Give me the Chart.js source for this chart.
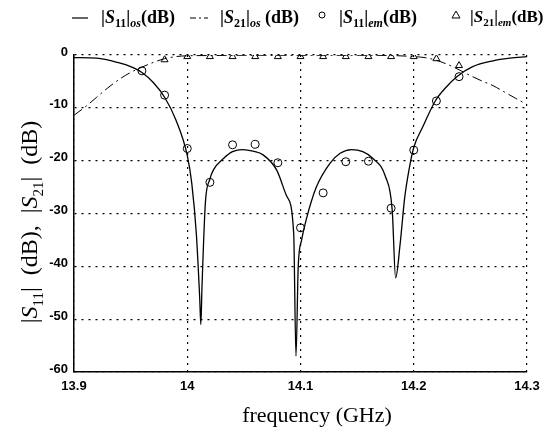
<!DOCTYPE html>
<html>
<head>
<meta charset="utf-8">
<script src="https://cdn.jsdelivr.net/npm/chart.js@4/dist/chart.umd.min.js"></script>
<style>
  html, body { margin: 0; padding: 0; background: #fff; }
</style>
</head>
<body>
<canvas id="chart" width="552" height="429"></canvas>
<script>
// simulated |S11| (solid)
var simFreq = [13.90, 13.92, 13.94, 13.95, 13.96, 13.97, 13.98, 13.99, 14.00, 14.004, 14.008, 14.011, 14.012, 14.013, 14.016, 14.02, 14.023, 14.032, 14.04, 14.049, 14.058, 14.067, 14.079, 14.088, 14.094, 14.096, 14.098, 14.101, 14.105, 14.114, 14.126, 14.135, 14.145, 14.155, 14.164, 14.175, 14.181, 14.184, 14.188, 14.192, 14.196, 14.20, 14.208, 14.219, 14.229, 14.238, 14.252, 14.27, 14.285, 14.30];
var simS11 = [-0.5, -0.6, -1.5, -2.2, -3.3, -5.2, -8.0, -12.3, -19.0, -24.3, -33.8, -46, -51, -44, -28, -23.5, -21.8, -19.6, -18.3, -17.9, -18.2, -18.9, -21.8, -26.8, -33.8, -57, -40, -35, -31.2, -25, -20.5, -18.6, -17.9, -18.3, -19.6, -23, -29.4, -42.2, -35.7, -27, -21.5, -17.5, -13.6, -8.7, -6.0, -4.1, -2.2, -1.1, -0.6, -0.3];

// simulated |S21| (dash-dot)
var simS21Freq = [13.90, 13.91, 13.92, 13.93, 13.94, 13.95, 13.96, 13.97, 13.98, 13.99, 14.00, 14.02, 14.05, 14.10, 14.15, 14.18, 14.20, 14.21, 14.22, 14.23, 14.24, 14.25, 14.26, 14.27, 14.28, 14.29, 14.30];
var simS21 = [-11.4, -9.8, -8.0, -6.2, -4.6, -3.3, -2.3, -1.4, -0.7, -0.3, -0.15, -0.1, -0.05, -0.05, -0.05, -0.1, -0.3, -0.5, -1.0, -1.8, -2.8, -3.9, -4.9, -5.8, -7.0, -8.2, -9.4];

// measured points
var measFreq = [13.96, 13.98, 14.00, 14.02, 14.04, 14.06, 14.08, 14.10, 14.12, 14.14, 14.16, 14.18, 14.20, 14.22, 14.24];
var measS11 = [-3.0, -7.6, -17.7, -24.1, -17.0, -16.9, -20.4, -32.7, -26.1, -20.2, -20.1, -29.0, -18.0, -8.7, -4.1];
var measS21Freq = [13.98, 14.00, 14.02, 14.04, 14.06, 14.08, 14.10, 14.12, 14.14, 14.16, 14.18, 14.20, 14.22, 14.24];
var measS21 = [-0.9, -0.3, -0.3, -0.3, -0.3, -0.3, -0.3, -0.3, -0.3, -0.3, -0.3, -0.3, -0.7, -2.0];

var xTicks = [13.9, 14.0, 14.1, 14.2, 14.3];
var yTicks = [0, -10, -20, -30, -40, -50, -60];

function pts(xs, ys) {
    var out = [];
    for (var i = 0; i < xs.length; i++) out.push({ x: xs[i], y: ys[i] });
    return out;
}

// draws text pieces one after another; kind: i = italic, s = subscript
function richText(ctx, x, y, parts, size, weight, measureOnly) {
    parts.forEach(function (p) {
        var sub = p[1].indexOf('s') >= 0, it = p[1].indexOf('i') >= 0;
        var fs = sub ? Math.round(size * 0.64) : size;
        ctx.font = (it ? 'italic ' : '') + weight + ' ' + fs + 'px "Liberation Serif"';
        if (!measureOnly) ctx.fillText(p[0], x, y + (sub ? size * 0.32 : 0));
        x += ctx.measureText(p[0]).width;
    });
    return x;
}

var textPlugin = {
    id: 'texts',
    afterDraw: function (chart) {
        var ctx = chart.ctx;
        ctx.save();
        ctx.fillStyle = '#000';
        ctx.strokeStyle = '#000';
        ctx.textBaseline = 'middle';
        ctx.textAlign = 'left';
        var ly = 18;

        // legend
        ctx.lineWidth = 1.2;
        ctx.beginPath(); ctx.moveTo(72, ly); ctx.lineTo(88, ly); ctx.stroke();
        richText(ctx, 101, ly, [['|', ''], ['S', 'i'], ['11', 's'], ['|', ''], ['os', 'si'], ['(dB)', '']], 18, 'bold');

        ctx.setLineDash([6, 3, 2, 3]);
        ctx.beginPath(); ctx.moveTo(190, ly); ctx.lineTo(208, ly); ctx.stroke();
        ctx.setLineDash([]);
        richText(ctx, 220, ly, [['|', ''], ['S', 'i'], ['21', 's'], ['|', ''], ['os', 'si'], [' (dB)', '']], 18, 'bold');

        ctx.lineWidth = 1;
        ctx.beginPath(); ctx.arc(322, ly - 3, 3, 0, Math.PI * 2); ctx.stroke();
        richText(ctx, 339, ly, [['|', ''], ['S', 'i'], ['11', 's'], ['|', ''], ['em', 'si'], ['(dB)', '']], 18, 'bold');

        ctx.beginPath(); ctx.moveTo(456, ly - 7); ctx.lineTo(460, ly); ctx.lineTo(452, ly); ctx.closePath(); ctx.stroke();
        richText(ctx, 470, ly, [['|', ''], ['S', 'i'], ['21', 's'], ['|', ''], ['em', 'si'], ['(dB)', '']], 17, 'bold');

        // y title, rotated
        var yParts = [['|', ''], ['S', 'i'], ['11', 's'], ['|  (dB),  |', ''], ['S', 'i'], ['21', 's'], ['|  (dB)', '']];
        var w = richText(ctx, 0, 0, yParts, 24, 'normal', true);
        ctx.translate(31, 222);
        ctx.rotate(-Math.PI / 2);
        richText(ctx, -w / 2, 0, yParts, 24, 'normal');
        ctx.restore();

        // x title
        ctx.save();
        ctx.fillStyle = '#000';
        ctx.textAlign = 'center';
        ctx.textBaseline = 'alphabetic';
        ctx.font = '22px "Liberation Serif"';
        ctx.fillText('frequency (GHz)', 317, 422);
        ctx.restore();
    }
};

new Chart(document.getElementById('chart'), {
    type: 'scatter',
    data: {
        datasets: [
            {
                label: '|S11|os',
                data: pts(simFreq, simS11),
                showLine: true,
                borderColor: '#000',
                borderWidth: 1.3,
                pointRadius: 0,
                cubicInterpolationMode: 'monotone'
            },
            {
                label: '|S21|os',
                data: pts(simS21Freq, simS21),
                showLine: true,
                borderColor: '#000',
                borderWidth: 1,
                borderDash: [10, 4, 2, 4],
                pointRadius: 0,
                cubicInterpolationMode: 'monotone'
            },
            {
                label: '|S11|em',
                data: pts(measFreq, measS11),
                pointStyle: 'circle',
                pointRadius: 4,
                borderColor: '#000',
                borderWidth: 1,
                backgroundColor: 'rgba(0,0,0,0)'
            },
            {
                label: '|S21|em',
                data: pts(measS21Freq, measS21),
                pointStyle: 'triangle',
                pointRadius: 4,
                borderColor: '#000',
                borderWidth: 1,
                backgroundColor: 'rgba(0,0,0,0)'
            }
        ]
    },
    options: {
        responsive: false,
        animation: false,
        devicePixelRatio: 1,
        layout: { padding: { top: 55, right: 25, left: 0, bottom: 0 } },
        plugins: { legend: { display: false }, tooltip: { enabled: false } },
        scales: {
            x: {
                type: 'linear',
                min: 13.9,
                max: 14.3,
                afterBuildTicks: function (s) { s.ticks = xTicks.map(function (v) { return { value: v }; }); },
                afterFit: function (s) { s.height = 57; },
                ticks: {
                    color: '#000',
                    padding: 7,
                    maxRotation: 0,
                    font: { family: '"Liberation Sans"', size: 13, weight: 'bold' },
                    callback: function (v) { return String(Math.round(v * 10) / 10); }
                },
                grid: { color: '#000', lineWidth: 1.2, drawTicks: false },
                border: { display: true, color: '#000', width: 1.5, dash: [2, 5] }
            },
            y: {
                min: -60,
                max: 0,
                afterBuildTicks: function (s) { s.ticks = yTicks.map(function (v) { return { value: v }; }); },
                afterFit: function (s) { s.width = 74; },
                ticks: {
                    color: '#000',
                    padding: 6,
                    labelOffset: -3,
                    font: { family: '"Liberation Sans"', size: 13, weight: 'bold' }
                },
                grid: { color: '#000', lineWidth: 1.2, drawTicks: false },
                border: { display: true, color: '#000', width: 1.5, dash: [2, 5] }
            }
        }
    },
    plugins: [textPlugin]
});
</script>
</body>
</html>
